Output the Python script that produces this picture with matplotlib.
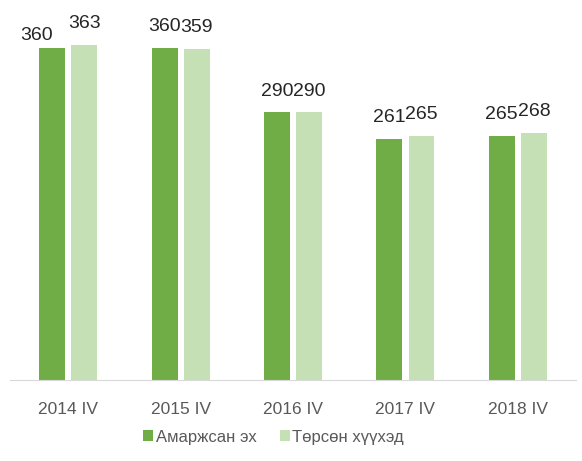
import matplotlib.pyplot as plt
import numpy as np

# chart data
categories = ["2014 IV", "2015 IV", "2016 IV", "2017 IV", "2018 IV"]
mothers = [360, 360, 290, 261, 265]
newborns = [363, 359, 290, 265, 268]
series_names = ["Амаржсан эх", "Төрсөн хүүхэд"]

plt.rcParams["font.family"] = ["Liberation Sans", "DejaVu Sans"]

fig = plt.figure(figsize=(5.82, 4.61), dpi=100)
ax = fig.add_axes([0.017, 0.176, 0.973, 0.80])

x = np.arange(len(categories))
w = 0.23
gap = 0.028
b1 = ax.bar(x - w / 2 - gap, mothers, w, color="#70AD47", label=series_names[0])
b2 = ax.bar(x + w / 2 + gap, newborns, w, color="#C5E0B4", label=series_names[1])

for bars, vals in ((b1, mothers), (b2, newborns)):
    for rect, v in zip(bars, vals):
        ax.text(rect.get_x() + rect.get_width() / 2, v + 14, str(v),
                ha="center", va="bottom", fontsize=14, color="#262626")

# the first label in the original was dragged left / down a bit
first = ax.texts[0]
fx, fy = first.get_position()
first.set_position((fx - 0.14, fy - 10))

ax.set_xlim(-0.52, 4.52)
ax.set_ylim(0, 400)
ax.set_xticks(x)
ax.set_xticklabels(categories, fontsize=12.5, color="#595959")
ax.tick_params(axis="x", length=0, pad=16)
ax.set_yticks([])
for side in ("top", "right", "left"):
    ax.spines[side].set_visible(False)
ax.spines["bottom"].set_color("#D9D9D9")

leg = fig.legend(handles=[b1, b2], loc="center", bbox_to_anchor=(0.47, 0.052),
                 ncol=2, frameon=False, fontsize=12, handlelength=0.6,
                 handleheight=0.6, handletextpad=0.15, columnspacing=1.4)
for t in leg.get_texts():
    t.set_color("#595959")

fig.savefig("out.png", dpi=100)
